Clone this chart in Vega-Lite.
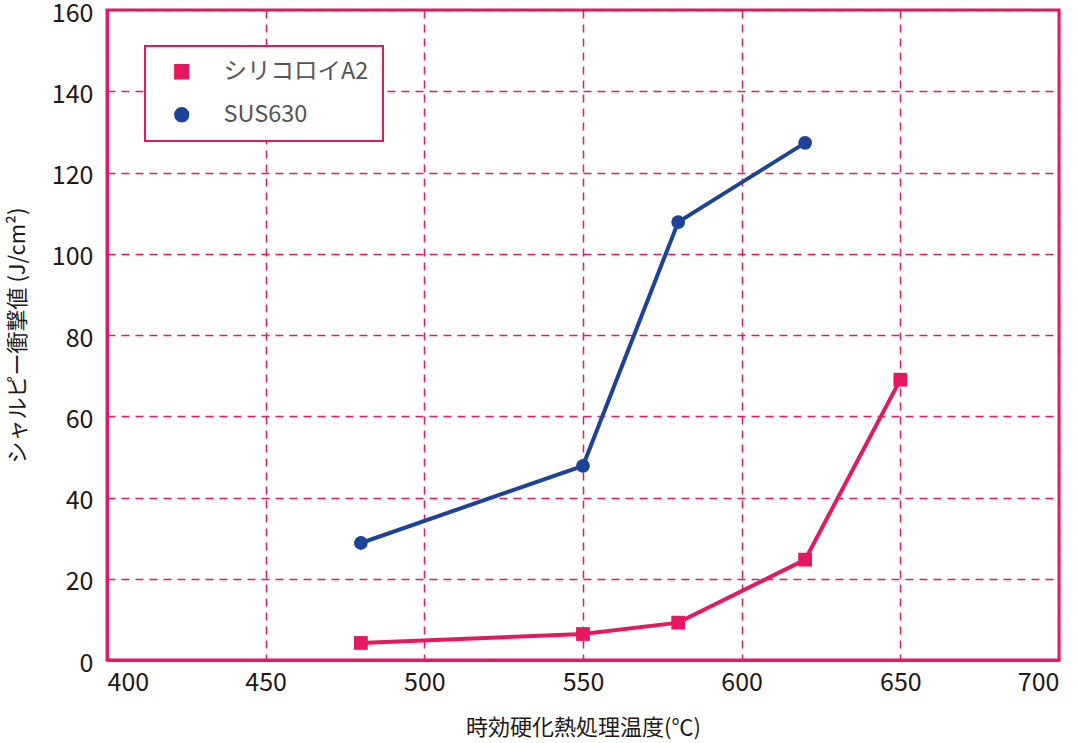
{
  "$schema": "https://vega.github.io/schema/vega-lite/v6.json",
  "width": 952,
  "height": 650,
  "autosize": "none",
  "padding": {"left": 107, "top": 10, "right": 19, "bottom": 83},
  "background": "white",
  "data": {
    "values": [
      {"temp": 480, "impact": 4.2, "alloy": "シリコロイA2"},
      {"temp": 550, "impact": 6.4, "alloy": "シリコロイA2"},
      {"temp": 580, "impact": 9.2, "alloy": "シリコロイA2"},
      {"temp": 620, "impact": 24.7, "alloy": "シリコロイA2"},
      {"temp": 650, "impact": 69, "alloy": "シリコロイA2"},
      {"temp": 480, "impact": 28.8, "alloy": "SUS630"},
      {"temp": 550, "impact": 47.8, "alloy": "SUS630"},
      {"temp": 580, "impact": 107.8, "alloy": "SUS630"},
      {"temp": 620, "impact": 127.3, "alloy": "SUS630"}
    ]
  },
  "encoding": {
    "x": {
      "field": "temp",
      "type": "quantitative",
      "title": "時効硬化熱処理温度(℃)",
      "scale": {"domain": [400, 700], "nice": false},
      "axis": {"values": [400, 450, 500, 550, 600, 650, 700]}
    },
    "y": {
      "field": "impact",
      "type": "quantitative",
      "title": "シャルピー衝撃値 (J/cm²)",
      "scale": {"domain": [0, 160], "nice": false},
      "axis": {"values": [0, 20, 40, 60, 80, 100, 120, 140, 160]}
    },
    "color": {
      "field": "alloy",
      "type": "nominal",
      "scale": {"domain": ["シリコロイA2", "SUS630"], "range": ["#e5195f", "#1d4399"]},
      "legend": {"title": null}
    }
  },
  "layer": [
    {
      "mark": {"type": "line", "strokeWidth": 4}
    },
    {
      "mark": {"type": "point", "filled": true, "opacity": 1, "size": 190},
      "encoding": {
        "shape": {
          "field": "alloy",
          "type": "nominal",
          "scale": {"domain": ["シリコロイA2", "SUS630"], "range": ["square", "circle"]},
          "legend": {"title": null}
        }
      }
    }
  ],
  "config": {
    "font": "Noto Sans CJK JP",
    "view": {"stroke": "#e5195f", "strokeWidth": 3},
    "axis": {
      "domainColor": "#e5195f",
      "domainWidth": 3,
      "ticks": false,
      "gridColor": "#e5195f",
      "gridDash": [8, 6],
      "gridWidth": 1.5,
      "gridOpacity": 1,
      "labelFontSize": 25,
      "labelColor": "#231815",
      "labelFont": "Noto Sans CJK JP",
      "titleFontSize": 22,
      "titleFontWeight": "normal",
      "titleColor": "#231815",
      "titleFont": "Noto Sans CJK JP"
    },
    "axisX": {"labelPadding": 10, "titlePadding": 22},
    "axisY": {"labelPadding": 14, "titlePadding": 22, "labelOffset": 3},
    "legend": {
      "orient": "none",
      "legendX": 38,
      "legendY": 36,
      "strokeColor": "#e5195f",
      "strokeWidth": 2,
      "fillColor": "white",
      "padding": 14,
      "labelFontSize": 23.5,
      "labelColor": "#555555",
      "labelFont": "Noto Sans CJK JP",
      "symbolSize": 190,
      "symbolOffset": 11,
      "labelOffset": 30,
      "rowPadding": 18,
      "symbolOpacity": 1
    }
  }
}
